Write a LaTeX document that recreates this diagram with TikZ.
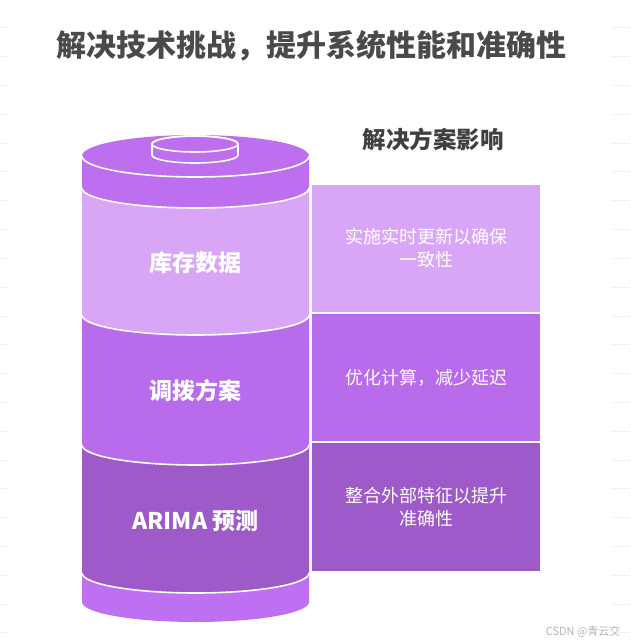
\documentclass[tikz,border=0pt]{standalone}
\usepackage{fontspec}
\setmainfont{Noto Sans CJK SC}
\definecolor{cTop}{HTML}{BE6FF0}
\definecolor{cLa}{HTML}{D9A6F7}
\definecolor{cLb}{HTML}{B86CEB}
\definecolor{cLc}{HTML}{9D5AC8}
\definecolor{cBot}{HTML}{BF70F2}
\definecolor{cTitle}{HTML}{4A4A4A}
\definecolor{cHead}{HTML}{404040}
\definecolor{cGrid}{HTML}{F1F1F1}
\definecolor{cMark}{HTML}{B4B4B4}
\newcommand\cyllayer[3]{\fill[#1] (82,#2) arc[start angle=180,end angle=0,x radius=113.5,y radius=20] -- (309,#3) arc[start angle=0,end angle=180,x radius=113.5,y radius=20] -- cycle;}
\newcommand\cylsep[2]{\draw[sep] (82,#1) arc[start angle=180,end angle=0,x radius=113.5,y radius=#2];}
\tikzset{
  lbl/.style={font=\bfseries\fontsize{23}{26}\selectfont, text=white, inner sep=0},
  boxtxt/.style={font=\fontsize{18}{23}\selectfont, text=white, align=center},
  sidebox/.style={minimum width=228pt, inner sep=0, outer sep=0},
  sep/.style={draw=white, line width=1.6pt},
  gridln/.style={draw=cGrid, line width=1pt},
}
\begin{document}
\begin{tikzpicture}[x=1pt,y=-1pt]
\useasboundingbox (0,0) rectangle (630,644);
\fill[white] (0,0) rectangle (630,644);
% faint background rules at the edges
\foreach \i in {0,...,21} {
  \draw[gridln] (0,28+28.8*\i) -- (8,28+28.8*\i);
  \draw[gridln] (612,28+28.8*\i) -- (630,28+28.8*\i);
}
% title
\node[font=\bfseries\fontsize{30}{32}\selectfont, text=cTitle] (title) at (311,46) {解决技术挑战，提升系统性能和准确性};
\node[font=\bfseries\fontsize{23.5}{26}\selectfont, text=cHead] (head) at (433,139) {解决方案影响};
% cylinder layers
\cyllayer{cBot}{573}{602}
\cyllayer{cLc}{445}{573}
\cyllayer{cLb}{315}{445}
\cyllayer{cLa}{188}{315}
\cyllayer{cTop}{156}{188}
\fill[cTop] (195.5,156) ellipse[x radius=113.5, y radius=21];
\cylsep{156}{21}
\cylsep{188}{20}
\cylsep{315}{20}
\cylsep{445}{20}
\cylsep{573}{20}
% cap
\filldraw[cTop, draw=white, line width=1.6pt] (152,144) -- (152,155) arc[start angle=180,end angle=0,x radius=43,y radius=8] -- (238,144) arc[start angle=0,end angle=-180,x radius=43,y radius=8] -- cycle;
\draw[sep] (195,144) ellipse[x radius=43, y radius=8];
% cylinder labels
\node[lbl] (l1) at (195.5,263) {库存数据};
\node[lbl] (l2) at (195.5,391) {调拨方案};
\node[lbl] (l3) at (195.5,521) {ARIMA 预测};
% side boxes
\node[sidebox, minimum height=127pt, fill=cLa, boxtxt] (b1) at (426,248.5) {实施实时更新以确保\\一致性};
\node[sidebox, minimum height=127pt, fill=cLb, boxtxt] (b2) at (426,377.5) {优化计算，减少延迟};
\node[sidebox, minimum height=128pt, fill=cLc, boxtxt] (b3) at (426,507) {整合外部特征以提升\\准确性};
% watermark
\node[font=\fontsize{11}{12}\selectfont, text=cMark, anchor=east] (wm) at (624,632) {CSDN @青云交};
\end{tikzpicture}
\end{document}
